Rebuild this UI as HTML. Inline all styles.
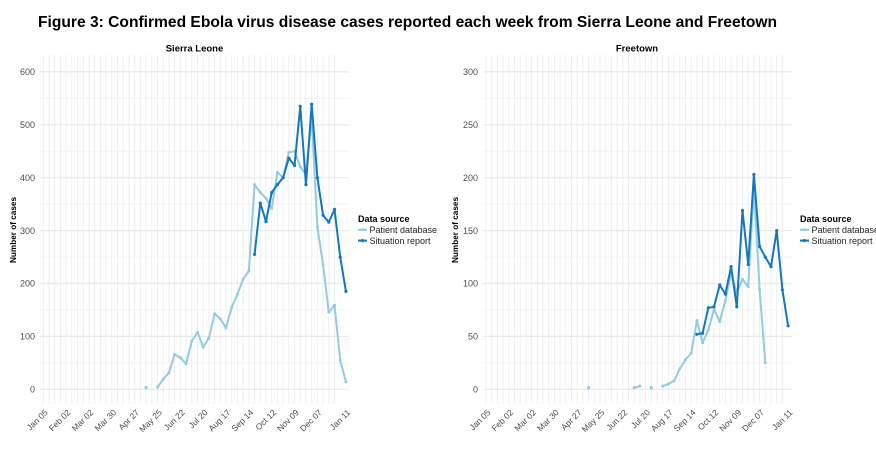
<!DOCTYPE html>
<html><head><meta charset="utf-8">
<style>
html,body{margin:0;padding:0;background:#fff;}
svg{display:block;}
text{font-family:"Liberation Sans",Arial,sans-serif;}
</style></head>
<body>
<svg width="876" height="449" viewBox="0 0 876 449" xmlns="http://www.w3.org/2000/svg">
<rect width="876" height="449" fill="#fff"/>
<!-- Title -->
<text x="38" y="27" font-size="16" font-weight="bold" fill="#000" textLength="739" lengthAdjust="spacingAndGlyphs">Figure 3: Confirmed Ebola virus disease cases reported each week from Sierra Leone and Freetown</text>

<!-- ============ SIERRA LEONE PANEL ============ -->
<g>
<!-- minor horizontal grid -->
<path d="M40 362.85H349M40 309.95H349M40 257.05H349M40 204.15H349M40 151.25H349M40 98.35H349" stroke="#f4f4f4" stroke-width="1" fill="none"/>
<!-- vertical weekly grid -->
<path d="M43.3 55v349m5.71 -349v349m5.71 -349v349m5.71 -349v349m5.71 -349v349m5.71 -349v349m5.71 -349v349m5.71 -349v349m5.71 -349v349m5.71 -349v349m5.71 -349v349m5.71 -349v349m5.71 -349v349m5.71 -349v349m5.71 -349v349m5.71 -349v349m5.71 -349v349m5.71 -349v349m5.71 -349v349m5.71 -349v349m5.71 -349v349m5.71 -349v349m5.71 -349v349m5.71 -349v349m5.71 -349v349m5.71 -349v349m5.71 -349v349m5.71 -349v349m5.71 -349v349m5.71 -349v349m5.71 -349v349m5.71 -349v349m5.71 -349v349m5.71 -349v349m5.71 -349v349m5.71 -349v349m5.71 -349v349m5.71 -349v349m5.71 -349v349m5.71 -349v349m5.71 -349v349m5.71 -349v349m5.71 -349v349m5.71 -349v349m5.71 -349v349m5.71 -349v349m5.71 -349v349m5.71 -349v349m5.71 -349v349m5.71 -349v349m5.71 -349v349m5.71 -349v349" stroke="#efefef" stroke-width="1" fill="none"/>
<!-- major horizontal grid -->
<path d="M40 389.3H349M40 336.4H349M40 283.5H349M40 230.6H349M40 177.7H349M40 124.8H349M40 71.9H349" stroke="#e9e9e9" stroke-width="1.2" fill="none"/>

<!-- y tick labels -->
<g font-size="9" fill="#4d4d4d" text-anchor="end">
<text x="35" y="392.5">0</text>
<text x="35" y="339.6">100</text>
<text x="35" y="286.7">200</text>
<text x="35" y="233.8">300</text>
<text x="35" y="180.9">400</text>
<text x="35" y="128">500</text>
<text x="35" y="75.1">600</text>
</g>
<!-- y title -->
<text transform="translate(16,230) rotate(-90)" font-size="8.5" font-weight="bold" text-anchor="middle" fill="#000" textLength="66" lengthAdjust="spacingAndGlyphs">Number of cases</text>
<!-- panel title -->
<text x="194.5" y="51.5" font-size="9.5" font-weight="bold" text-anchor="middle" fill="#000">Sierra Leone</text>

<!-- x tick labels -->
<g font-size="8.5" fill="#4d4d4d" text-anchor="end">
<text transform="translate(48.3,413) rotate(-45)">Jan 05</text>
<text transform="translate(71.1,413) rotate(-45)">Feb 02</text>
<text transform="translate(94,413) rotate(-45)">Mar 02</text>
<text transform="translate(116.8,413) rotate(-45)">Mar 30</text>
<text transform="translate(139.7,413) rotate(-45)">Apr 27</text>
<text transform="translate(162.5,413) rotate(-45)">May 25</text>
<text transform="translate(185.3,413) rotate(-45)">Jun 22</text>
<text transform="translate(208.2,413) rotate(-45)">Jul 20</text>
<text transform="translate(231,413) rotate(-45)">Aug 17</text>
<text transform="translate(253.9,413) rotate(-45)">Sep 14</text>
<text transform="translate(276.7,413) rotate(-45)">Oct 12</text>
<text transform="translate(299.5,413) rotate(-45)">Nov 09</text>
<text transform="translate(322.4,413) rotate(-45)">Dec 07</text>
<text transform="translate(350.9,413) rotate(-45)">Jan 11</text>
</g>

<!-- Patient database (light) -->
<g stroke="#93cae4" fill="#93cae4">
<polyline fill="none" stroke-width="2" stroke-linejoin="round" points="157.5,387.2 163.21,379.2 168.92,372.9 174.63,354.4 180.34,357.6 186.05,363.9 191.76,341.2 197.47,332.2 203.18,347.0 208.89,338.0 214.6,313.7 220.31,318.9 226.02,327.9 231.73,307.3 237.44,294.1 243.15,279.3 248.86,270.8 254.57,184.6 260.28,192.5 265.99,198.3 271.7,208.4 277.41,172.4 283.12,177.7 288.83,152.3 294.54,151.3 300.25,166.6 305.96,175.1 311.67,116.9 317.38,226.9 323.09,265.0 328.8,312.1 334.51,305.2 340.22,360.2 345.93,381.9"/>
<g stroke="none">
<circle cx="146.08" cy="387.7" r="1.7"/>
<circle cx="157.5" cy="387.2" r="1.5"/><circle cx="163.21" cy="379.2" r="1.5"/><circle cx="168.92" cy="372.9" r="1.5"/><circle cx="174.63" cy="354.4" r="1.5"/><circle cx="180.34" cy="357.6" r="1.5"/><circle cx="186.05" cy="363.9" r="1.5"/><circle cx="191.76" cy="341.2" r="1.5"/><circle cx="197.47" cy="332.2" r="1.5"/><circle cx="203.18" cy="347.0" r="1.5"/><circle cx="208.89" cy="338.0" r="1.5"/><circle cx="214.6" cy="313.7" r="1.5"/><circle cx="220.31" cy="318.9" r="1.5"/><circle cx="226.02" cy="327.9" r="1.5"/><circle cx="231.73" cy="307.3" r="1.5"/><circle cx="237.44" cy="294.1" r="1.5"/><circle cx="243.15" cy="279.3" r="1.5"/><circle cx="248.86" cy="270.8" r="1.5"/><circle cx="254.57" cy="184.6" r="1.5"/><circle cx="260.28" cy="192.5" r="1.5"/><circle cx="265.99" cy="198.3" r="1.5"/><circle cx="271.7" cy="208.4" r="1.5"/><circle cx="277.41" cy="172.4" r="1.5"/><circle cx="283.12" cy="177.7" r="1.5"/><circle cx="288.83" cy="152.3" r="1.5"/><circle cx="294.54" cy="151.3" r="1.5"/><circle cx="300.25" cy="166.6" r="1.5"/><circle cx="305.96" cy="175.1" r="1.5"/><circle cx="311.67" cy="116.9" r="1.5"/><circle cx="317.38" cy="226.9" r="1.5"/><circle cx="323.09" cy="265.0" r="1.5"/><circle cx="328.8" cy="312.1" r="1.5"/><circle cx="334.51" cy="305.2" r="1.5"/><circle cx="340.22" cy="360.2" r="1.5"/><circle cx="345.93" cy="381.9" r="1.5"/>
</g>
</g>
<!-- Situation report (dark) -->
<g stroke="#1577bb" fill="#1577bb">
<polyline fill="none" stroke-width="2" stroke-linejoin="round" points="254.57,254.4 260.28,203.1 265.99,221.6 271.7,192.5 277.41,184.6 283.12,177.7 288.83,158.1 294.54,165.5 300.25,106.3 305.96,184.6 311.67,104.2 317.38,177.7 323.09,215.3 328.8,222.1 334.51,209.4 340.22,257.1 345.93,291.4"/>
<g stroke="none">
<circle cx="254.57" cy="254.4" r="1.6"/><circle cx="260.28" cy="203.1" r="1.6"/><circle cx="265.99" cy="221.6" r="1.6"/><circle cx="271.7" cy="192.5" r="1.6"/><circle cx="277.41" cy="184.6" r="1.6"/><circle cx="283.12" cy="177.7" r="1.6"/><circle cx="288.83" cy="158.1" r="1.6"/><circle cx="294.54" cy="165.5" r="1.6"/><circle cx="300.25" cy="106.3" r="1.6"/><circle cx="305.96" cy="184.6" r="1.6"/><circle cx="311.67" cy="104.2" r="1.6"/><circle cx="317.38" cy="177.7" r="1.6"/><circle cx="323.09" cy="215.3" r="1.6"/><circle cx="328.8" cy="222.1" r="1.6"/><circle cx="334.51" cy="209.4" r="1.6"/><circle cx="340.22" cy="257.1" r="1.6"/><circle cx="345.93" cy="291.4" r="1.6"/>
</g>
</g>

<!-- legend -->
<text x="358" y="222" font-size="9" font-weight="bold" fill="#000">Data source</text>
<line x1="358" y1="229.8" x2="367" y2="229.8" stroke="#93cae4" stroke-width="2"/>
<circle cx="362.5" cy="229.8" r="1.5" fill="#93cae4"/>
<text x="369.5" y="233" font-size="9" fill="#222">Patient database</text>
<line x1="358" y1="240.6" x2="367" y2="240.6" stroke="#1577bb" stroke-width="2"/>
<circle cx="362.5" cy="240.6" r="1.6" fill="#1577bb"/>
<text x="369.5" y="244" font-size="9" fill="#222">Situation report</text>
</g>

<!-- ============ FREETOWN PANEL ============ -->
<g>
<path d="M483 362.85H792M483 309.95H792M483 257.05H792M483 204.15H792M483 151.25H792M483 98.35H792" stroke="#f4f4f4" stroke-width="1" fill="none"/>
<path d="M486 55v349m5.7 -349v349m5.7 -349v349m5.7 -349v349m5.7 -349v349m5.7 -349v349m5.7 -349v349m5.7 -349v349m5.7 -349v349m5.7 -349v349m5.7 -349v349m5.7 -349v349m5.7 -349v349m5.7 -349v349m5.7 -349v349m5.7 -349v349m5.7 -349v349m5.7 -349v349m5.7 -349v349m5.7 -349v349m5.7 -349v349m5.7 -349v349m5.7 -349v349m5.7 -349v349m5.7 -349v349m5.7 -349v349m5.7 -349v349m5.7 -349v349m5.7 -349v349m5.7 -349v349m5.7 -349v349m5.7 -349v349m5.7 -349v349m5.7 -349v349m5.7 -349v349m5.7 -349v349m5.7 -349v349m5.7 -349v349m5.7 -349v349m5.7 -349v349m5.7 -349v349m5.7 -349v349m5.7 -349v349m5.7 -349v349m5.7 -349v349m5.7 -349v349m5.7 -349v349m5.7 -349v349m5.7 -349v349m5.7 -349v349m5.7 -349v349m5.7 -349v349m5.7 -349v349" stroke="#efefef" stroke-width="1" fill="none"/>
<path d="M483 389.3H792M483 336.4H792M483 283.5H792M483 230.6H792M483 177.7H792M483 124.8H792M483 71.9H792" stroke="#e9e9e9" stroke-width="1.2" fill="none"/>

<g font-size="9" fill="#4d4d4d" text-anchor="end">
<text x="478" y="392.5">0</text>
<text x="478" y="339.6">50</text>
<text x="478" y="286.7">100</text>
<text x="478" y="233.8">150</text>
<text x="478" y="180.9">200</text>
<text x="478" y="128">250</text>
<text x="478" y="75.1">300</text>
</g>
<text transform="translate(458,230) rotate(-90)" font-size="8.5" font-weight="bold" text-anchor="middle" fill="#000" textLength="66" lengthAdjust="spacingAndGlyphs">Number of cases</text>
<text x="637" y="51.5" font-size="9.5" font-weight="bold" text-anchor="middle" fill="#000">Freetown</text>

<g font-size="8.5" fill="#4d4d4d" text-anchor="end">
<text transform="translate(491,413) rotate(-45)">Jan 05</text>
<text transform="translate(513.8,413) rotate(-45)">Feb 02</text>
<text transform="translate(536.6,413) rotate(-45)">Mar 02</text>
<text transform="translate(559.4,413) rotate(-45)">Mar 30</text>
<text transform="translate(582.2,413) rotate(-45)">Apr 27</text>
<text transform="translate(605,413) rotate(-45)">May 25</text>
<text transform="translate(627.8,413) rotate(-45)">Jun 22</text>
<text transform="translate(650.6,413) rotate(-45)">Jul 20</text>
<text transform="translate(673.4,413) rotate(-45)">Aug 17</text>
<text transform="translate(696.2,413) rotate(-45)">Sep 14</text>
<text transform="translate(719,413) rotate(-45)">Oct 12</text>
<text transform="translate(741.8,413) rotate(-45)">Nov 09</text>
<text transform="translate(764.6,413) rotate(-45)">Dec 07</text>
<text transform="translate(793.1,413) rotate(-45)">Jan 11</text>
</g>

<!-- Patient database (light) -->
<g stroke="#93cae4" fill="#93cae4">
<polyline fill="none" stroke-width="2" points="634.2,387.7 639.9,386.1"/>
<polyline fill="none" stroke-width="2" stroke-linejoin="round" points="662.7,386.1 668.4,384.0 674.1,380.8 679.8,368.7 685.5,359.7 691.2,353.3 696.9,320.5 702.6,342.7 708.3,330.1 714.0,309.3 719.7,321.6 725.4,300.4 731.1,272.9 736.8,293.0 742.5,279.3 748.2,286.7 753.9,186.7 759.6,289.8 765.3,362.9"/>
<g stroke="none">
<circle cx="588.6" cy="387.7" r="1.7"/><circle cx="634.2" cy="387.7" r="1.6"/><circle cx="639.9" cy="386.1" r="1.6"/><circle cx="651.3" cy="387.7" r="1.7"/>
<circle cx="662.7" cy="386.1" r="1.5"/><circle cx="668.4" cy="384.0" r="1.5"/><circle cx="674.1" cy="380.8" r="1.5"/><circle cx="679.8" cy="368.7" r="1.5"/><circle cx="685.5" cy="359.7" r="1.5"/><circle cx="691.2" cy="353.3" r="1.5"/><circle cx="696.9" cy="320.5" r="1.5"/><circle cx="702.6" cy="342.7" r="1.5"/><circle cx="708.3" cy="330.1" r="1.5"/><circle cx="714.0" cy="309.3" r="1.5"/><circle cx="719.7" cy="321.6" r="1.5"/><circle cx="725.4" cy="300.4" r="1.5"/><circle cx="731.1" cy="272.9" r="1.5"/><circle cx="736.8" cy="293.0" r="1.5"/><circle cx="742.5" cy="279.3" r="1.5"/><circle cx="748.2" cy="286.7" r="1.5"/><circle cx="753.9" cy="186.7" r="1.5"/><circle cx="759.6" cy="289.8" r="1.5"/><circle cx="765.3" cy="362.9" r="1.5"/>
</g>
</g>
<!-- Situation report (dark) -->
<g stroke="#1577bb" fill="#1577bb">
<polyline fill="none" stroke-width="2" stroke-linejoin="round" points="696.9,334.3 702.6,333.2 708.3,307.8 714.0,306.8 719.7,285.0 725.4,294.1 731.1,266.6 736.8,306.8 742.5,210.5 748.2,264.5 753.9,174.5 759.6,246.5 765.3,257.1 771.0,266.6 776.7,230.6 782.4,289.8 788.1,325.8"/>
<g stroke="none">
<circle cx="696.9" cy="334.3" r="1.6"/><circle cx="702.6" cy="333.2" r="1.6"/><circle cx="708.3" cy="307.8" r="1.6"/><circle cx="714.0" cy="306.8" r="1.6"/><circle cx="719.7" cy="285.0" r="1.6"/><circle cx="725.4" cy="294.1" r="1.6"/><circle cx="731.1" cy="266.6" r="1.6"/><circle cx="736.8" cy="306.8" r="1.6"/><circle cx="742.5" cy="210.5" r="1.6"/><circle cx="748.2" cy="264.5" r="1.6"/><circle cx="753.9" cy="174.5" r="1.6"/><circle cx="759.6" cy="246.5" r="1.6"/><circle cx="765.3" cy="257.1" r="1.6"/><circle cx="771.0" cy="266.6" r="1.6"/><circle cx="776.7" cy="230.6" r="1.6"/><circle cx="782.4" cy="289.8" r="1.6"/><circle cx="788.1" cy="325.8" r="1.6"/>
</g>
</g>

<text x="800" y="222" font-size="9" font-weight="bold" fill="#000">Data source</text>
<line x1="800" y1="229.8" x2="809" y2="229.8" stroke="#93cae4" stroke-width="2"/>
<circle cx="804.5" cy="229.8" r="1.5" fill="#93cae4"/>
<text x="811.5" y="233" font-size="9" fill="#222">Patient database</text>
<line x1="800" y1="240.6" x2="809" y2="240.6" stroke="#1577bb" stroke-width="2"/>
<circle cx="804.5" cy="240.6" r="1.6" fill="#1577bb"/>
<text x="811.5" y="244" font-size="9" fill="#222">Situation report</text>
</g>
</svg>
</body></html>
